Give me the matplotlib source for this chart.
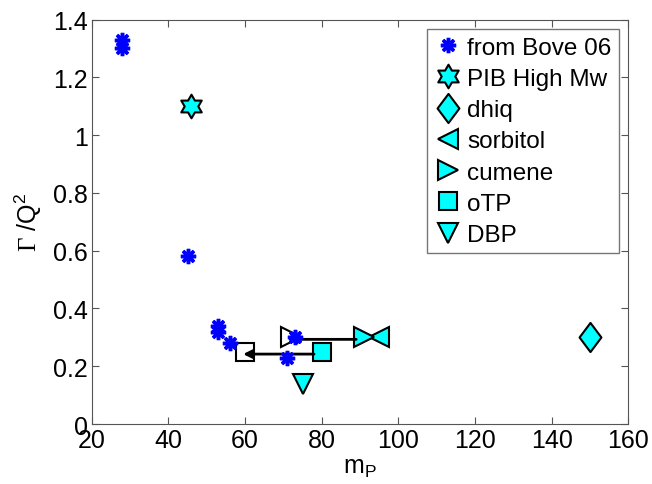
import numpy as np
import matplotlib
matplotlib.use('Agg')
import matplotlib.pyplot as plt
from matplotlib.path import Path

plt.rcParams['font.family'] = ['Liberation Sans', 'DejaVu Sans']
plt.rcParams['mathtext.fontset'] = 'custom'
plt.rcParams['mathtext.rm'] = 'Liberation Serif'
plt.rcParams['mathtext.sf'] = 'Liberation Sans'

# Data
bove_m = [28, 28, 45, 53, 53, 56, 71, 73]
bove_g = [1.33, 1.30, 0.58, 0.34, 0.32, 0.28, 0.23, 0.30]

pib_m, pib_g = [46], [1.10]
dhiq_m, dhiq_g = [150], [0.30]
sorbitol_m, sorbitol_g = [95], [0.30]
cumene_m, cumene_g = [91], [0.30]
otp_m, otp_g = [80], [0.25]
dbp_m, dbp_g = [75], [0.14]

# shifted positions (open symbols)
cumene_shift_m, cumene_shift_g = [72], [0.30]
otp_shift_m, otp_shift_g = [60], [0.25]

# arrows: (from_m, from_g, to_m, to_g)
arrows = [
    (89, 0.293, 71, 0.293),
    (78, 0.242, 59.5, 0.242),
]

# marker shapes
t = np.linspace(np.pi / 2, np.pi / 2 + 2 * np.pi, 13)[:-1]
r = np.where(np.arange(12) % 2 == 0, 1.0, 1 / np.sqrt(3))
hexagram = Path(np.column_stack([r * np.cos(t), r * np.sin(t)]).tolist() + [[0, 1]], closed=True)
diamond = Path([(0, 1), (0.75, 0), (0, -1), (-0.75, 0), (0, 1)], closed=True)

cyan = (0, 1, 1)

fig = plt.figure(figsize=(6.52, 4.85), dpi=100)
ax = fig.add_axes([0.1407, 0.1237, 0.823, 0.834])

for x0, y0, x1, y1 in arrows:
    ax.annotate('', xy=(x1, y1), xytext=(x0, y0),
                arrowprops=dict(arrowstyle='-|>,head_length=0.5,head_width=0.25',
                                color='black', lw=2, shrinkA=0, shrinkB=0),
                zorder=4)

ax.plot(otp_shift_m, otp_shift_g, 's', ms=13, mfc='white', mec='black', mew=1.5, zorder=3)
ax.plot(cumene_shift_m, cumene_shift_g, '>', ms=15, mfc='none', mec='black', mew=1.5, zorder=3)

ax.plot(bove_m, bove_g, ls='none', marker=(8, 2, 0), ms=11, mew=2.5, color='blue',
        label='from Bove 06', zorder=5)
ax.plot(pib_m, pib_g, ls='none', marker=hexagram, ms=17, mfc=cyan, mec='black', mew=1.5,
        label='PIB High Mw')
ax.plot(dhiq_m, dhiq_g, ls='none', marker=diamond, ms=21, mfc=cyan, mec='black', mew=1.5,
        label='dhiq')
ax.plot(sorbitol_m, sorbitol_g, ls='none', marker='<', ms=15, mfc=cyan, mec='black', mew=1.5,
        label='sorbitol')
ax.plot(cumene_m, cumene_g, ls='none', marker='>', ms=15, mfc=cyan, mec='black', mew=1.5,
        label='cumene')
ax.plot(otp_m, otp_g, ls='none', marker='s', ms=13, mfc=cyan, mec='black', mew=1.5,
        label='oTP')
ax.plot(dbp_m, dbp_g, ls='none', marker='v', ms=15, mfc=cyan, mec='black', mew=1.5,
        label='DBP')

ax.set_xlim(20, 160)
ax.set_ylim(0, 1.4)
ax.set_xticks(range(20, 161, 20))
ax.set_yticks(np.arange(0, 1.41, 0.2))
ax.set_yticklabels(['0', '0.2', '0.4', '0.6', '0.8', '1', '1.2', '1.4'])
ax.tick_params(direction='in', top=True, right=True, labelsize=18, length=5,
               color='#555555', pad=3)
for s in ax.spines.values():
    s.set_color('#555555')

ax.set_xlabel('m$_{\\mathsf{P}}$', fontsize=18, labelpad=2)
ax.set_ylabel('$\\Gamma$ /Q$^{\\mathsf{2}}$', fontsize=18, labelpad=6)

leg = ax.legend(loc='upper right', fontsize=17.5, frameon=True, fancybox=False,
                edgecolor='#555555', handlelength=1.1, handletextpad=0.25,
                labelspacing=0.38, borderpad=0.3, borderaxespad=0.4, numpoints=1)
leg.get_frame().set_linewidth(1.0)

fig.savefig('out.png', dpi=100)
